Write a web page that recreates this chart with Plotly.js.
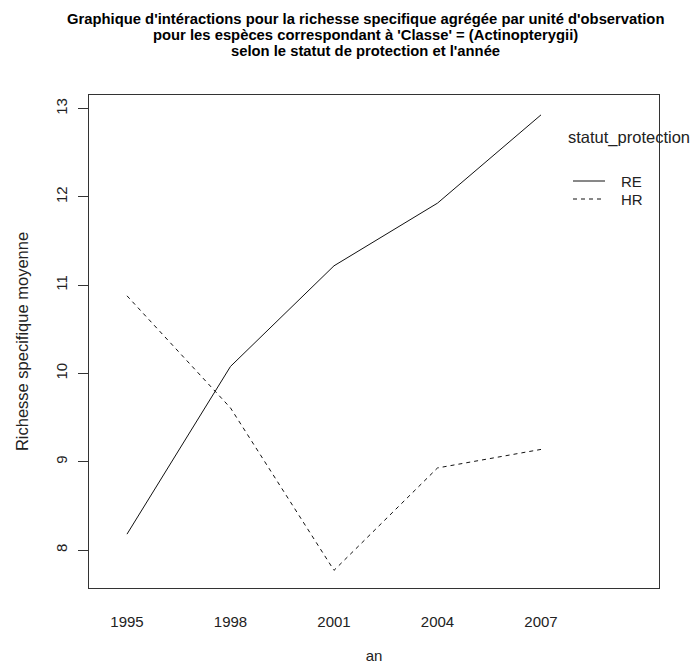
<!DOCTYPE html>
<html>
<head>
<meta charset="utf-8">
<script src="https://cdn.plot.ly/plotly-3.0.1.min.js"></script>
<style>html,body{margin:0;padding:0;background:#fff;}#chart{width:693px;height:666px;}</style>
</head>
<body>
<div id="chart"></div>
<script>
const years = ['1995', '1998', '2001', '2004', '2007'];
const reValues = [8.18, 10.08, 11.22, 11.93, 12.93];
const hrValues = [10.88, 9.61, 7.77, 8.93, 9.14];
const yTicks = [8, 9, 10, 11, 12, 13];
const groupName = 'statut_protection';
const groupLevels = ['RE', 'HR'];
const titleLines = [
  "Graphique d'intéractions pour la richesse specifique agrégée par unité d'observation",
  "pour les espèces correspondant à 'Classe' = (Actinopterygii)",
  "selon le statut de protection et l'année"
];
const xTitle = 'an';
const yTitle = 'Richesse specifique moyenne';

const FONT = 'Liberation Sans, Arial, sans-serif';
const W = 693, H = 666;
const M = {l: 89, r: 34, t: 95, b: 78};
const PW = W - M.l - M.r, PH = H - M.t - M.b;
const px = x => (x - M.l) / PW;
const py = y => (H - M.b - y) / PH;

const dashes = ['solid', '4px,4px'];
const series = [reValues, hrValues];

const traces = series.map((vals, i) => ({
  type: 'scatter', mode: 'lines', x: years, y: vals,
  name: groupLevels[i], showlegend: false,
  line: {color: '#111', width: 1, dash: dashes[i]},
  hoverinfo: 'x+y+name'
}));

const annotations = titleLines.map((t, i) => ({
  text: '<b>' + t + '</b>', xref: 'paper', yref: 'paper',
  x: px(365), y: py(19 + i * 16), xanchor: 'center', yanchor: 'middle',
  showarrow: false, font: {family: FONT, size: 14.8, color: '#000'}
}));

annotations.push({
  text: groupName, xref: 'paper', yref: 'paper', x: px(566), y: py(137),
  xanchor: 'left', yanchor: 'middle', showarrow: false,
  font: {family: FONT, size: 16.5, color: '#222'}
});
const legY = [181, 199];
const shapes = [];
groupLevels.forEach((lv, i) => {
  annotations.push({
    text: lv, xref: 'paper', yref: 'paper', x: px(619), y: py(legY[i]),
    xanchor: 'left', yanchor: 'middle', showarrow: false,
    font: {family: FONT, size: 15, color: '#222'}
  });
  shapes.push({
    type: 'line', xref: 'paper', yref: 'paper',
    x0: px(573), x1: px(605), y0: py(legY[i]), y1: py(legY[i]),
    line: {color: '#111', width: 1, dash: dashes[i]}
  });
});

const layout = {
  width: W, height: H,
  margin: M,
  paper_bgcolor: '#fff', plot_bgcolor: '#fff',
  font: {family: FONT, size: 15, color: '#222'},
  showlegend: false,
  xaxis: {
    type: 'category', range: [-0.367, 5.14],
    showline: true, mirror: true, linecolor: '#333', linewidth: 1,
    ticks: 'outside', ticklen: 20, tickcolor: 'rgba(0,0,0,0)',
    showgrid: false, zeroline: false, automargin: false,
    tickfont: {family: FONT, size: 15, color: '#222'},
    title: {text: xTitle, standoff: 21, font: {family: FONT, size: 15, color: '#222'}}
  },
  yaxis: {
    range: [7.57, 13.155], tickvals: yTicks, ticktext: yTicks.map(String),
    showline: true, mirror: true, linecolor: '#333', linewidth: 1,
    ticks: 'outside', ticklen: 10, tickcolor: '#333', tickwidth: 1,
    tickangle: -90, ticklabelstandoff: 5,
    showgrid: false, zeroline: false, automargin: false,
    tickfont: {family: FONT, size: 15, color: '#222'},
    title: {text: yTitle, standoff: 20, font: {family: FONT, size: 16.5, color: '#222'}}
  },
  annotations: annotations,
  shapes: shapes
};

Plotly.newPlot('chart', traces, layout, {displayModeBar: false, responsive: false});
</script>
</body>
</html>
